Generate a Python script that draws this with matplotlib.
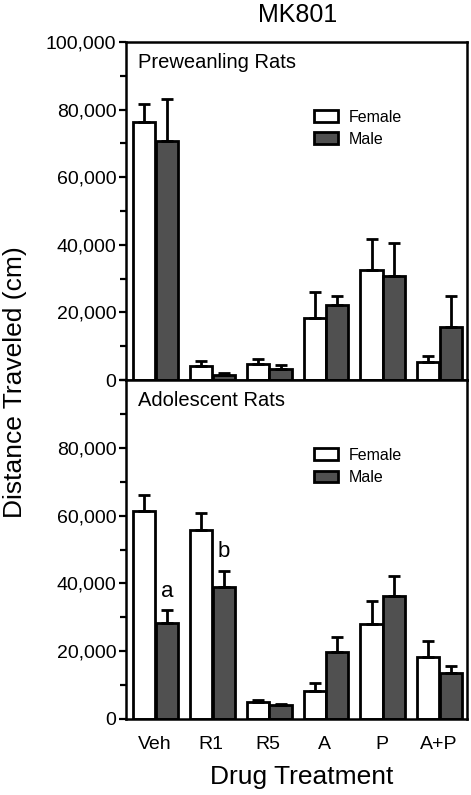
import matplotlib
matplotlib.use('Agg')
import matplotlib.pyplot as plt
import matplotlib.patches as mpatches
from matplotlib.ticker import FuncFormatter, MultipleLocator
import numpy as np

plt.rcParams['font.family'] = ['Liberation Sans', 'DejaVu Sans']

# ── Data ─────────────────────────────────────────────────────
treatments = ['Veh', 'R1', 'R5', 'A', 'P', 'A+P']

pre_female     = [76200, 4100, 4800, 18400, 32500, 5300]
pre_female_err = [5500, 1600, 1500, 7700, 9200, 1800]
pre_male       = [70700, 1400, 3400, 22200, 30700, 15800]
pre_male_err   = [12400, 600, 1000, 2700, 9700, 8900]

ado_female     = [61300, 55700, 4900, 8300, 28100, 18200]
ado_female_err = [4800, 5000, 700, 2400, 6700, 4700]
ado_male       = [28400, 38900, 4000, 19900, 36400, 13700]
ado_male_err   = [3700, 4900, 500, 4200, 5700, 2000]

# significance letters above male bars: (group index, y position, letter)
sig_marks = [(0, 37500, 'a'), (1, 49300, 'b')]

FEMALE_C = '#FFFFFF'
MALE_C   = '#505050'
EDGE_LW  = 2.0

fig = plt.figure(figsize=(4.71, 7.95), dpi=100)
ax_top = fig.add_axes([0.2675, 0.522, 0.724, 0.4253])
ax_bot = fig.add_axes([0.2675, 0.0956, 0.724, 0.4264])

x = np.arange(len(treatments))
w = 0.39
err_style = dict(ecolor='black', elinewidth=2.0, capsize=4.5, capthick=2.0)


def draw_panel(ax, fem, fem_err, male, male_err, title):
    ax.bar(x - 0.18, fem, width=w, color=FEMALE_C, edgecolor='black',
           linewidth=EDGE_LW, yerr=[np.zeros(len(fem)), fem_err],
           error_kw=err_style, label='Female', zorder=2)
    ax.bar(x + 0.22, male, width=w, color=MALE_C, edgecolor='black',
           linewidth=EDGE_LW, yerr=[np.zeros(len(male)), male_err],
           error_kw=err_style, label='Male', zorder=2)
    ax.set_xlim(-0.5, 5.5)
    ax.set_ylim(0, 100000)
    ax.yaxis.set_minor_locator(MultipleLocator(10000))
    ax.yaxis.set_major_formatter(FuncFormatter(lambda v, _: f'{int(v):,}'))
    ax.tick_params(axis='y', which='major', direction='out', length=5, width=1.6,
                   labelsize=14, pad=2)
    ax.tick_params(axis='y', which='minor', direction='out', length=4, width=1.6)
    for s in ax.spines.values():
        s.set_linewidth(1.8)
    ax.text(0.035, 0.94, title, transform=ax.transAxes, fontsize=14.5,
            ha='left', va='center')
    handles = [mpatches.Patch(facecolor=FEMALE_C, edgecolor='black', linewidth=2.0, label='Female'),
               mpatches.Patch(facecolor=MALE_C, edgecolor='black', linewidth=2.0, label='Male')]
    ax.legend(handles=handles, loc='upper left', bbox_to_anchor=(0.551, 0.80),
              frameon=False, fontsize=11.5, handlelength=1.5, handleheight=0.75,
              handletextpad=0.7, labelspacing=0.45, borderpad=0, borderaxespad=0)


draw_panel(ax_top, pre_female, pre_female_err, pre_male, pre_male_err,
           'Preweanling Rats')
ax_top.set_yticks(np.arange(0, 100001, 20000))
ax_top.set_xticks([])

draw_panel(ax_bot, ado_female, ado_female_err, ado_male, ado_male_err,
           'Adolescent Rats')
ax_bot.set_yticks(np.arange(0, 80001, 20000))
ax_bot.set_xticks(x)
ax_bot.set_xticklabels(treatments, fontsize=14)
ax_bot.tick_params(axis='x', length=0, pad=12)

for gi, yv, letter in sig_marks:
    ax_bot.text(x[gi] + 0.22, yv, letter, ha='center', va='center', fontsize=16)

fig.text(0.632, 0.981, 'MK801', ha='center', va='center', fontsize=18)
fig.text(0.032, 0.519, 'Distance Traveled (cm)', rotation=90, ha='center',
         va='center', fontsize=19)
fig.text(0.641, 0.0226, 'Drug Treatment', ha='center', va='center', fontsize=19)

fig.savefig('out.png', dpi=100, facecolor='white')
